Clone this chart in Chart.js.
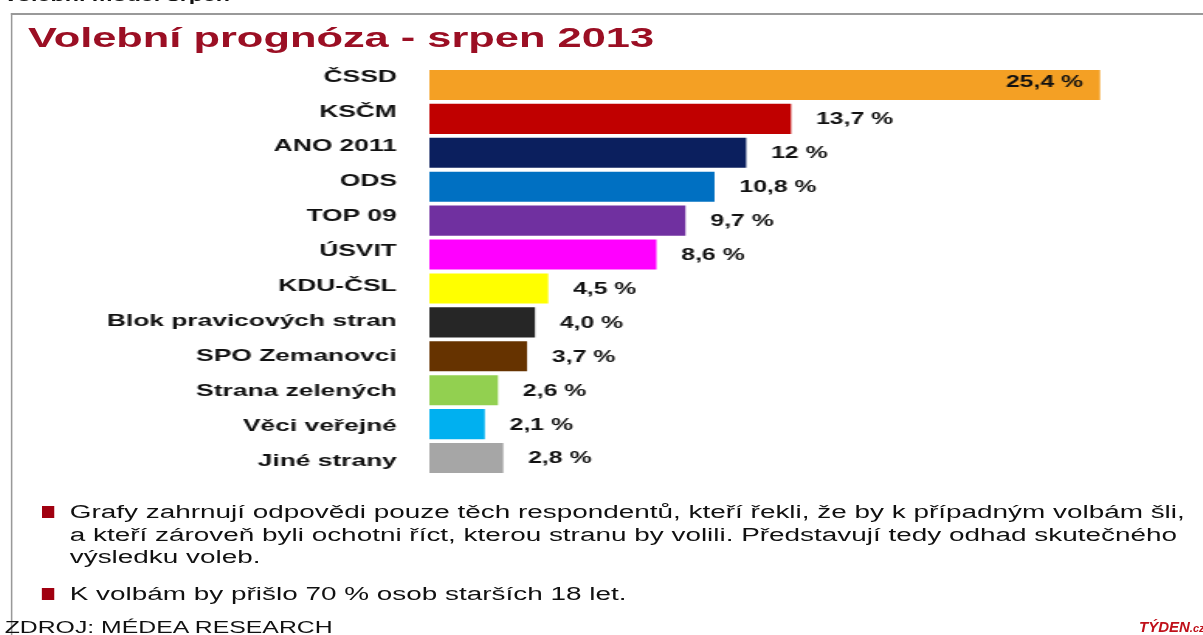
<!DOCTYPE html>
<html><head><meta charset="utf-8">
<script src="https://cdn.jsdelivr.net/npm/chart.js@4"></script>
<style>
html,body{margin:0;padding:0;background:#fff;width:1203px;height:635px;overflow:hidden;font-family:"Liberation Sans",Arial,sans-serif;}
#wrap{position:relative;width:776px;height:635px;transform:scaleX(1.55);transform-origin:0 0;}
#frame{position:absolute;left:6.5px;top:13px;width:780px;height:640px;border-left:1.3px solid #999;border-top:2px solid #999;box-sizing:border-box;}
#toptxt{position:absolute;left:2px;top:-13px;font-weight:bold;font-size:15px;color:#111;}
#title{position:absolute;left:18px;top:22px;font-weight:bold;font-size:28px;color:#9B0F24;}
canvas{position:absolute;left:0;top:0;}
.note{position:absolute;left:45px;font-size:18px;color:#111;line-height:22.5px;white-space:nowrap;}
.bul{position:absolute;left:27px;width:8px;height:12px;background:#A00010;}
#src{position:absolute;left:3px;top:619px;font-size:16px;color:#111;}
#logo{position:absolute;left:1139px;top:618px;font-size:15px;font-weight:bold;font-style:italic;color:#C0101A;white-space:nowrap;}
</style></head>
<body><div id="wrap">
<div id="frame"></div>
<div id="toptxt">Volební model srpen</div>
<div id="title">Volební prognóza - srpen 2013</div>
<canvas id="c" width="776" height="635"></canvas>
<div class="bul" style="top:506px"></div>
<div class="note" style="top:501px">Grafy zahrnují odpovědi pouze těch respondentů, kteří řekli, že by k případným volbám šli,<br>a kteří zároveň byli ochotni říct, kterou stranu by volili. Představují tedy odhad skutečného<br>výsledku voleb.</div>
<div class="bul" style="top:588px"></div>
<div class="note" style="top:583px">K volbám by přišlo 70 % osob starších 18 let.</div>
<div id="src">ZDROJ: MÉDEA RESEARCH</div>
</div>
<div id="logo">TÝDEN<span style="font-size:11px">.cz</span></div>
<script>
const categories = ["ČSSD","KSČM","ANO 2011","ODS","TOP 09","ÚSVIT","KDU-ČSL","Blok pravicových stran","SPO Zemanovci","Strana zelených","Věci veřejné","Jiné strany"];
const values = [25.4,13.7,12,10.8,9.7,8.6,4.5,4.0,3.7,2.6,2.1,2.8];
const valueLabels = ["25,4 %","13,7 %","12 %","10,8 %","9,7 %","8,6 %","4,5 %","4,0 %","3,7 %","2,6 %","2,1 %","2,8 %"];
const barColors = ["#F4A024","#C00000","#0B1F5E","#0070C2","#7030A0","#FF00FF","#FFFF00","#262626","#663300","#92D050","#00B0F0","#A6A6A6"];

const valuePlugin = {
  id:'valueLabels',
  afterDatasetsDraw(chart){
    const ctx = chart.ctx;
    const meta = chart.getDatasetMeta(0);
    ctx.save();
    ctx.font = 'bold 16px "Liberation Sans", Arial, sans-serif';
    ctx.fillStyle = '#111';
    ctx.textBaseline = 'middle';
    meta.data.forEach((bar,i)=>{
      if(i===0){
        ctx.textAlign='right';
        ctx.fillText(valueLabels[i], bar.x-11, bar.y-2);
      } else {
        ctx.textAlign='left';
        ctx.fillText(valueLabels[i], bar.x+16, bar.y+1);
      }
    });
    ctx.restore();
  }
};

new Chart(document.getElementById('c'),{
  type:'bar',
  data:{labels:categories,datasets:[{data:values,backgroundColor:barColors,borderWidth:0,barPercentage:0.885,categoryPercentage:1}]},
  options:{
    indexAxis:'y',responsive:false,animation:false,
    layout:{padding:{top:68,bottom:160,right:22,left:0}},
    plugins:{legend:{display:false},tooltip:{enabled:false}},
    scales:{
      x:{display:false,min:0,max:28,grid:{display:false}},
      y:{display:false,grid:{display:false}},
      yLabels:{type:'linear',position:'left',reverse:true,offset:false,bounds:'data',min:-0.258,max:11.404,
         grid:{display:false,offset:false},border:{display:false},
         afterBuildTicks(s){s.ticks = categories.map((_,i)=>({value:i}));},
         ticks:{autoSkip:false,color:'#111',padding:13,
           font:{family:'"Liberation Sans", Arial, sans-serif',size:17,weight:'bold'},
           callback:(v)=>categories[v]||''},
         afterFit(s){s.width=277;}}
    }
  },
  plugins:[valuePlugin]
});
</script>
</body></html>
